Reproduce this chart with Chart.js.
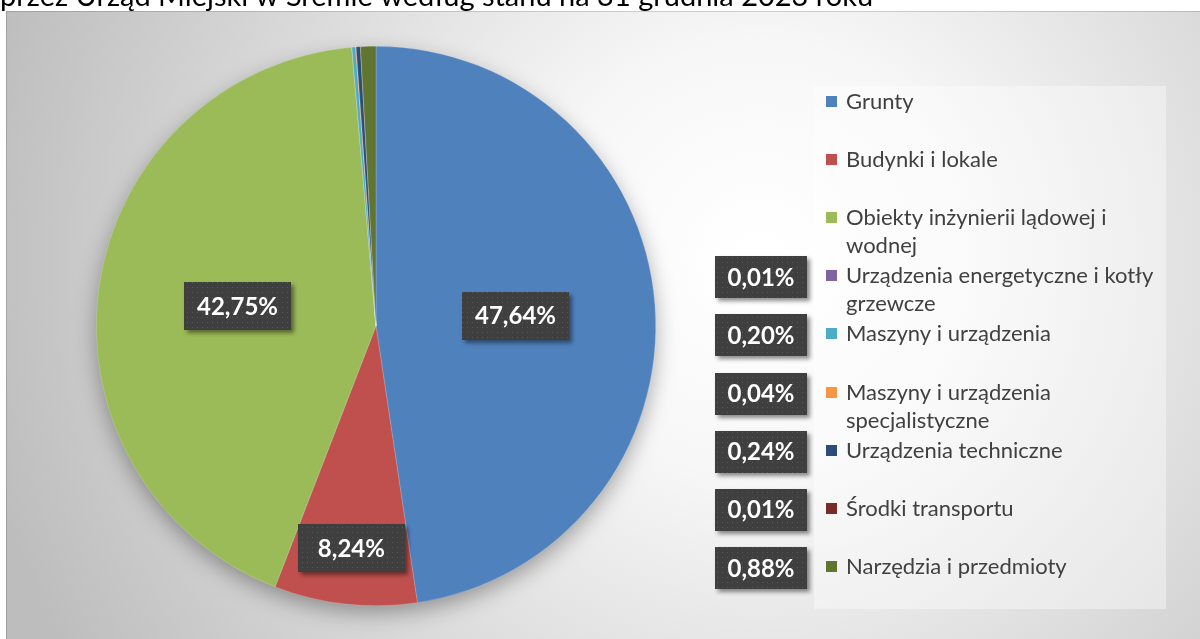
<!DOCTYPE html>
<html>
<head>
<meta charset="utf-8">
<script src="https://cdn.jsdelivr.net/npm/chart.js@4/dist/chart.umd.min.js"></script>
<style>
html, body { margin: 0; padding: 0; background: #fff; overflow: hidden; }
#wrap { position: relative; width: 1200px; height: 639px; }
</style>
</head>
<body>
<div id="wrap"><canvas id="chart" width="1200" height="639"></canvas></div>
<script>
/* ------------------------------------------------------------------ */
/* dane */
var titleText = 'przez Urząd Miejski w Śremie według stanu na 31 grudnia 2023 roku';
var categories = [
    'Grunty',
    'Budynki i lokale',
    'Obiekty inżynierii lądowej i wodnej',
    'Urządzenia energetyczne i kotły grzewcze',
    'Maszyny i urządzenia',
    'Maszyny i urządzenia specjalistyczne',
    'Urządzenia techniczne',
    'Środki transportu',
    'Narzędzia i przedmioty'
];
var shares = [47.64, 8.24, 42.75, 0.01, 0.20, 0.04, 0.24, 0.01, 0.88];
var colors = ['#4F81BD', '#C0504D', '#9BBB59', '#8064A2', '#4BACC6', '#F79646', '#2C4D75', '#772C2A', '#5F7530'];

var FONT = 'Lato, "Open Sans", "Noto Sans", sans-serif';

/* ------------------------------------------------------------------ */
/* wzór kropkowany na etykietach */
var patCanvas = document.createElement('canvas');
patCanvas.width = 5; patCanvas.height = 5;
var pctx = patCanvas.getContext('2d');
pctx.fillStyle = '#3f3f3f';
pctx.fillRect(0, 0, 5, 5);
pctx.fillStyle = '#575757';
pctx.fillRect(2, 2, 1, 1);

function fmt(v) { return v.toFixed(2).replace('.', ',') + '%'; }

function drawLabel(ctx, text, cx, cy, w, h) {
    ctx.save();
    ctx.shadowColor = 'rgba(0,0,0,0.45)';
    ctx.shadowBlur = 4;
    ctx.shadowOffsetX = 3;
    ctx.shadowOffsetY = 3;
    ctx.fillStyle = ctx.createPattern(patCanvas, 'repeat');
    ctx.fillRect(Math.round(cx - w / 2), Math.round(cy - h / 2), w, h);
    ctx.restore();
    ctx.save();
    ctx.font = 'bold 24px ' + FONT;
    ctx.fillStyle = '#ffffff';
    ctx.textAlign = 'center';
    ctx.textBaseline = 'middle';
    ctx.fillText(text, cx, cy + 1);
    ctx.restore();
}

function wrapText(ctx, text, maxW) {
    var words = text.split(' '), lines = [], cur = '';
    words.forEach(function (w) {
        var test = cur ? cur + ' ' + w : w;
        if (ctx.measureText(test).width > maxW && cur) { lines.push(cur); cur = w; }
        else cur = test;
    });
    lines.push(cur);
    return lines;
}

/* ------------------------------------------------------------------ */
/* tło, tytuł, ramka */
var backdrop = {
    id: 'backdrop',
    beforeDraw: function (chart) {
        var ctx = chart.ctx;
        ctx.save();
        ctx.fillStyle = '#ffffff';
        ctx.fillRect(0, 0, 1200, 639);
        ctx.font = '29px ' + FONT;
        ctx.fillStyle = '#000000';
        ctx.textBaseline = 'alphabetic';
        ctx.fillText(titleText, 0, 6);

        var g = ctx.createRadialGradient(760, 260, 20, 760, 260, 800);
        g.addColorStop(0, '#ffffff');
        g.addColorStop(0.25, '#f7f7f7');
        g.addColorStop(1, '#bdbdbd');
        ctx.fillStyle = g;
        ctx.fillRect(6, 11, 1194, 628);
        ctx.strokeStyle = 'rgba(0,0,0,0.15)';
        ctx.lineWidth = 1;
        ctx.beginPath();
        ctx.moveTo(6.5, 639); ctx.lineTo(6.5, 11.5); ctx.lineTo(1200, 11.5);
        ctx.stroke();

        // pole legendy
        ctx.fillStyle = 'rgba(255,255,255,0.38)';
        ctx.fillRect(814, 86, 352, 523);
        ctx.restore();
    }
};

/* cień pod kołem */
var pieShadow = {
    id: 'pieShadow',
    beforeDatasetsDraw: function (chart) {
        var arc = chart.getDatasetMeta(0).data[0];
        var ctx = chart.ctx;
        ctx.save();
        ctx.shadowColor = 'rgba(0,0,0,0.35)';
        ctx.shadowBlur = 22;
        ctx.shadowOffsetY = 8;
        ctx.fillStyle = '#9e9e9e';
        ctx.beginPath();
        ctx.arc(arc.x, arc.y, arc.outerRadius - 1, 0, Math.PI * 2);
        ctx.fill();
        ctx.restore();
    }
};

/* legenda i etykiety danych */
var legendLabels = {
    id: 'legendLabels',
    afterDatasetsDraw: function (chart) {
        var ctx = chart.ctx;
        var meta = chart.getDatasetMeta(0);
        var ds = chart.data.datasets[0];
        ctx.save();
        ctx.font = '22px ' + FONT;
        ctx.textBaseline = 'middle';
        chart.data.labels.forEach(function (lab, i) {
            var y = 101 + i * 58.1;
            ctx.fillStyle = ds.backgroundColor[i];
            ctx.fillRect(826, Math.round(y - 5), 11, 11);
            ctx.fillStyle = '#404040';
            var lines = wrapText(ctx, lab, 316);
            lines.forEach(function (ln, k) { ctx.fillText(ln, 846, y + 1 + k * 28); });
        });
        ctx.restore();

        var inside = [0.5, 0.8, 0.5];
        ds.data.forEach(function (v, i) {
            if (i < 3) {
                var a = meta.data[i];
                var mid = (a.startAngle + a.endAngle) / 2;
                var r = a.outerRadius * inside[i];
                drawLabel(ctx, fmt(v), a.x + Math.cos(mid) * r, a.y + Math.sin(mid) * r, 107, 48);
            } else {
                drawLabel(ctx, fmt(v), 761, 101 + i * 58.1 + 2, 92, 42);
            }
        });
    }
};

/* ------------------------------------------------------------------ */
var chart = new Chart(document.getElementById('chart'), {
    type: 'pie',
    data: {
        labels: categories,
        datasets: [{
            data: shares,
            backgroundColor: colors,
            borderColor: 'rgba(255,255,255,0.35)',
            borderWidth: 0.5
        }]
    },
    options: {
        responsive: false,
        animation: false,
        layout: { padding: { top: 46, bottom: 33, left: 96, right: 544 } },
        plugins: {
            legend: { display: false },
            tooltip: { enabled: false }
        }
    },
    plugins: [backdrop, pieShadow, legendLabels]
});
</script>
</body>
</html>
